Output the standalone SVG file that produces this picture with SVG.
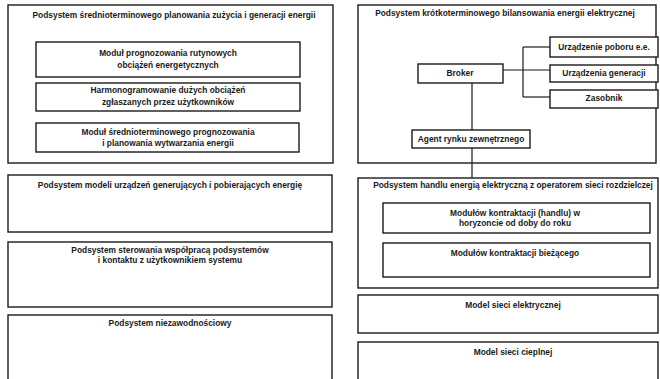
<svg xmlns="http://www.w3.org/2000/svg" width="660" height="379" viewBox="0 0 660 379">
<style>
rect{fill:#fff;stroke:#1a1a1a;stroke-width:1.4}
text{font-family:"Liberation Sans",Arial,sans-serif;font-size:8.4px;font-weight:bold;fill:#1a1a1a;text-anchor:middle}
.c line{stroke:#1a1a1a;stroke-width:1.2}
</style>
<rect x="0" y="0" width="660" height="379" style="stroke:none"/>
<g id="left1">
<rect x="8" y="5" width="325" height="158"/>
<text x="174" y="18">Podsystem średnioterminowego planowania zużycia i generacji energii</text>
</g>
<g id="leftA">
<rect x="36" y="42" width="264" height="35"/>
<text x="168" y="56">Moduł prognozowania rutynowych</text>
<text x="168" y="68">obciążeń energetycznych</text>
</g>
<g id="leftB">
<rect x="36" y="83" width="264" height="28"/>
<text x="168" y="93">Harmonogramowanie dużych obciążeń</text>
<text x="168" y="105">zgłaszanych przez użytkowników</text>
</g>
<g id="leftC">
<rect x="36" y="123" width="263" height="29"/>
<text x="168" y="135">Moduł średnioterminowego prognozowania</text>
<text x="168" y="146">i planowania wytwarzania energii</text>
</g>
<g id="left2">
<rect x="8" y="175" width="324" height="57"/>
<text x="170" y="188">Podsystem modeli urządzeń generujących i pobierających energię</text>
</g>
<g id="left3">
<rect x="8" y="242" width="324" height="65"/>
<text x="170" y="253">Podsystem sterowania współpracą podsystemów</text>
<text x="170" y="263">i kontaktu z użytkownikiem systemu</text>
</g>
<g id="left4">
<rect x="8" y="315" width="324" height="70"/>
<text x="170" y="326">Podsystem niezawodnościowy</text>
</g>
<g id="right1">
<rect x="358" y="5" width="298" height="158"/>
<text x="505" y="16">Podsystem krótkoterminowego bilansowania energii elektrycznej</text>
</g>
<g class="c" id="connectors">
<line x1="503" y1="70" x2="550" y2="70"/>
<line x1="523" y1="47" x2="523" y2="97"/>
<line x1="523" y1="47" x2="550" y2="47"/>
<line x1="523" y1="97" x2="550" y2="97"/>
<line x1="472" y1="83" x2="472" y2="130"/>
<line x1="472" y1="148" x2="472" y2="178"/>
</g>
<g id="broker">
<rect x="418" y="64" width="85" height="19"/>
<text x="460" y="76">Broker</text>
</g>
<g id="pobor">
<rect x="550" y="37" width="108" height="20"/>
<text x="604" y="50">Urządzenie poboru e.e.</text>
</g>
<g id="generacja">
<rect x="550" y="65" width="108" height="17"/>
<text x="604" y="76">Urządzenia generacji</text>
</g>
<g id="zasobnik">
<rect x="550" y="90" width="108" height="18"/>
<text x="604" y="101">Zasobnik</text>
</g>
<g id="agent">
<rect x="412" y="130" width="118" height="18"/>
<text x="471" y="142">Agent rynku zewnętrznego</text>
</g>
<g id="right2">
<rect x="358" y="178" width="300" height="110"/>
<text x="513" y="188">Podsystem handlu energią elektryczną z operatorem sieci rozdzielczej</text>
</g>
<g id="rightA">
<rect x="383" y="203" width="267" height="30"/>
<text x="515" y="216">Modułów kontraktacji (handlu) w</text>
<text x="515" y="226">horyzoncie od doby do roku</text>
</g>
<g id="rightB">
<rect x="383" y="243" width="267" height="34"/>
<text x="515" y="256">Modułów kontraktacji  bieżącego</text>
</g>
<g id="right3">
<rect x="358" y="295" width="300" height="38"/>
<text x="513" y="308">Model sieci elektrycznej</text>
</g>
<g id="right4">
<rect x="358" y="342" width="300" height="45"/>
<text x="513" y="355">Model sieci cieplnej</text>
</g>
</svg>
